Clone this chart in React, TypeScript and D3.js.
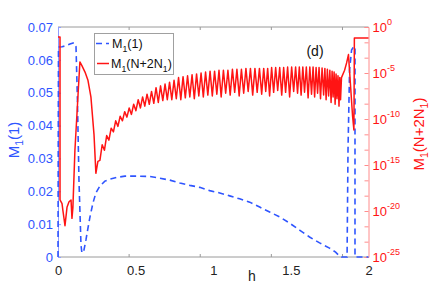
import React, { useEffect, useRef } from "react";
import * as d3 from "d3";

// M1(1), blue dashed, left axis
const blueH = [0, 0.003, 0.026, 0.051, 0.077, 0.103, 0.116, 0.125, 0.135, 0.148,
  0.154, 0.167, 0.18, 0.193, 0.206, 0.225, 0.244, 0.27, 0.302, 0.334,
  0.386, 0.431, 0.508, 0.592, 0.656, 0.72, 0.785, 0.849, 0.913, 0.977,
  1.042, 1.106, 1.17, 1.235, 1.299, 1.363, 1.428, 1.492, 1.556, 1.62,
  1.685, 1.749, 1.788, 1.813, 1.826, 1.862, 1.868, 1.878, 1.891, 1.904,
  1.913, 1.913, 2.0];
const blueV = [0, 0.0639, 0.064, 0.0643, 0.0648, 0.0652, 0.064, 0.048, 0.0234, 0.0037,
  0.0012, 0.0021, 0.0052, 0.0088, 0.0122, 0.0164, 0.0195, 0.0216, 0.0231, 0.0237,
  0.0243, 0.0246, 0.0246, 0.0245, 0.024, 0.0234, 0.0225, 0.0218, 0.0212, 0.0202,
  0.0195, 0.0186, 0.0177, 0.0167, 0.0152, 0.0137, 0.0122, 0.0103, 0.0082, 0.0061,
  0.0043, 0.0027, 0.0015, 0.0003, 0, 0, 0.0326, 0.0569, 0.063, 0.064,
  0.064, 0, 0];

// M1(N+2N1), red, right log axis (values stored as log10)
const redHeadH = [0, 0.013, 0.013, 0.026, 0.032, 0.045, 0.058, 0.071, 0.084, 0.09,
  0.096, 0.109, 0.129, 0.141, 0.154, 0.174, 0.193, 0.212, 0.232, 0.244, 0.257];
const redHeadLog = [-1.1, -1.1, -18.8, -19.2, -20.0, -21.6, -19.6, -19.0, -18.8, -20.8,
  -19.6, -13.4, -7.4, -3.8, -4.2, -4.9, -5.8, -7.6, -11.7, -15.9, -14.6];

// oscillating part: cusp positions, cusp depths, arch tops between cusps
const combCuspH = [0.27, 0.299, 0.328, 0.357, 0.386, 0.415, 0.444, 0.473, 0.502, 0.531,
  0.559, 0.588, 0.617, 0.646, 0.675, 0.704, 0.733, 0.762, 0.791, 0.82,
  0.849, 0.878, 0.907, 0.936, 0.965, 0.994, 1.023, 1.051, 1.08, 1.109,
  1.138, 1.167, 1.196, 1.225, 1.254, 1.283, 1.312, 1.338, 1.363, 1.389,
  1.415, 1.441, 1.466, 1.492, 1.518, 1.543, 1.566, 1.588, 1.611, 1.633,
  1.653, 1.672, 1.691, 1.711, 1.727, 1.743, 1.759, 1.772, 1.785, 1.797,
  1.81, 1.82];
const combDipLog = [-14.5, -13.4, -12.3, -11.4, -10.8, -10.2, -9.8, -9.5, -9.1, -8.8,
  -8.6, -8.4, -8.3, -8.2, -8.0, -7.9, -7.9, -7.8, -7.9, -7.7,
  -7.6, -7.8, -7.5, -7.6, -7.4, -7.5, -7.3, -7.6, -7.2, -7.4,
  -7.1, -7.5, -7.2, -7.0, -7.4, -7.1, -7.3, -7.0, -7.5, -7.1,
  -6.9, -7.4, -7.1, -7.6, -7.0, -7.2, -7.4, -7.1, -7.7, -7.3,
  -7.6, -7.2, -7.8, -7.4, -7.9, -7.5, -8.2, -7.6, -8.4, -7.8,
  -8.6, -7.9];
const combPeakLog = [-12.8, -11.8, -11.0, -10.2, -9.7, -9.2, -8.8, -8.4, -7.9, -7.6,
  -7.3, -7.0, -6.6, -6.4, -6.2, -6.0, -5.8, -5.5, -5.4, -5.3,
  -5.2, -5.1, -5.0, -4.9, -4.8, -4.8, -4.7, -4.7, -4.7, -4.6,
  -4.6, -4.6, -4.5, -4.5, -4.5, -4.5, -4.5, -4.5, -4.4, -4.4,
  -4.4, -4.4, -4.35, -4.35, -4.35, -4.35, -4.35, -4.35, -4.35, -4.35,
  -4.4, -4.4, -4.45, -4.5, -4.6, -4.7, -4.8, -4.9, -5.1, -5.3,
  -5.5];

const redTailH = [1.826, 1.846, 1.859, 1.871, 1.884, 1.897, 1.906, 1.909, 2.0];
const redTailLog = [-5.5, -4.7, -3.9, -3.0, -6.3, -9.6, -11.2, -1.2, -1.2];

const leftTicks = [0, 0.01, 0.02, 0.03, 0.04, 0.05, 0.06, 0.07];
const rightLabelExps = [0, -5, -10, -15, -20, -25];
const xTickLabels = [0, 0.5, 1, 1.5, 2];

const BLUE = "#2f55ff";
const RED = "#ff1414";
const FONT = "'Liberation Sans', Arial, Helvetica, sans-serif";

const App = () => {
  const ref = useRef(null);

  useEffect(() => {
    const svg = d3.select(ref.current);
    svg.selectAll("*").remove();

    const L = 58, R = 368.5, T = 27, B = 257;
    const x = d3.scaleLinear().domain([0, 2]).range([L, R]);
    // MATLAB's second axes put its tick marks on a slightly different x range
    const xMark = d3.scaleLinear().domain([0, 2.183]).range([L, R]);
    const yL = d3.scaleLinear().domain([0, 0.07]).range([B, T]);
    const yR = d3.scaleLog().domain([1e-25, 1]).range([B, T]);

    // frame
    svg.append("line").attr("x1", L).attr("x2", R).attr("y1", T).attr("y2", T)
      .attr("stroke", "#9a9a9a");
    svg.append("line").attr("x1", L).attr("x2", R).attr("y1", B).attr("y2", B)
      .attr("stroke", "#9a9a9a");

    // x tick marks (top and bottom, inward)
    [0.5, 1, 1.5, 2].forEach((t) => {
      const px = xMark(t);
      svg.append("line").attr("x1", px).attr("x2", px).attr("y1", B).attr("y2", B - 3)
        .attr("stroke", "#9a9a9a");
      svg.append("line").attr("x1", px).attr("x2", px).attr("y1", T).attr("y2", T + 3)
        .attr("stroke", "#9a9a9a");
    });

    // x labels
    const xAxis = svg.append("g").attr("transform", `translate(0,${B})`)
      .call(d3.axisBottom(x).tickValues(xTickLabels).tickSize(0).tickPadding(9)
        .tickFormat((d) => String(d)));
    xAxis.select(".domain").remove();
    xAxis.selectAll("text").attr("font-family", FONT).attr("font-size", 13)
      .attr("fill", "#222");

    // left axis
    const yAxisL = svg.append("g").attr("transform", `translate(${L},0)`)
      .call(d3.axisLeft(yL).tickValues(leftTicks).tickSize(-3).tickPadding(5)
        .tickFormat((d) => (d === 0 ? "0" : d.toFixed(2))));
    yAxisL.select(".domain").attr("stroke", "#8e9cff");
    yAxisL.selectAll("line").attr("stroke", "#8e9cff");
    yAxisL.selectAll("text").attr("font-family", FONT).attr("font-size", 13)
      .attr("fill", BLUE);

    // right log axis
    const minorExps = d3.range(0, 16).map((i) => -i * 5 / 3);
    const yAxisR = svg.append("g").attr("transform", `translate(${R},0)`)
      .call(d3.axisRight(yR).tickValues(minorExps.map((e) => Math.pow(10, e)))
        .tickSize(-4).tickFormat(() => ""));
    yAxisR.select(".domain").attr("stroke", "#ff8c8c");
    yAxisR.selectAll("line").attr("stroke", "#ff8c8c");

    rightLabelExps.forEach((e) => {
      const t = svg.append("text").attr("x", R + 4).attr("y", yR(Math.pow(10, e)) + 5)
        .attr("font-family", FONT).attr("font-size", 13).attr("fill", RED);
      t.append("tspan").text("10");
      t.append("tspan").attr("font-size", 9).attr("dy", -7).text(String(e));
    });

    // blue curve
    const blueData = blueH.map((h, i) => [h, blueV[i]]);
    svg.append("path").datum(blueData)
      .attr("d", d3.line().x((d) => x(d[0])).y((d) => yL(d[1])))
      .attr("fill", "none").attr("stroke", BLUE).attr("stroke-width", 1.6)
      .attr("stroke-dasharray", "6,4");

    // red curve
    const redData = redHeadH.map((h, i) => [h, redHeadLog[i]]);
    combCuspH.forEach((h, i) => {
      redData.push([h, combDipLog[i]]);
      if (i < combPeakLog.length) {
        redData.push([(h + combCuspH[i + 1]) / 2, combPeakLog[i]]);
      }
    });
    redTailH.forEach((h, i) => redData.push([h, redTailLog[i]]));
    svg.append("path").datum(redData)
      .attr("d", d3.line().x((d) => x(d[0])).y((d) => yR(Math.pow(10, d[1]))))
      .attr("fill", "none").attr("stroke", RED).attr("stroke-width", 1.5)
      .attr("stroke-linejoin", "round");

    // axis titles
    const sub = (sel, parts) => {
      parts.forEach(([s, isSub]) => {
        const ts = sel.append("tspan").text(s);
        if (isSub) ts.attr("font-size", "0.7em").attr("dy", 4);
        else ts.attr("dy", sel.selectAll("tspan").size() > 1 ? -4 : 0);
      });
      return sel;
    };

    sub(svg.append("text").attr("transform", "translate(19,140) rotate(-90)")
      .attr("text-anchor", "middle").attr("font-family", FONT).attr("font-size", 15)
      .attr("fill", BLUE), [["M", false], ["1", true], ["(1)", false]]);

    sub(svg.append("text").attr("transform", "translate(424,134) rotate(-90)")
      .attr("text-anchor", "middle").attr("font-family", FONT).attr("font-size", 15)
      .attr("fill", RED),
    [["M", false], ["1", true], ["(N+2N", false], ["1", true], [")", false]]);

    svg.append("text").attr("x", 252).attr("y", 281).attr("text-anchor", "middle")
      .attr("font-family", FONT).attr("font-size", 14).attr("fill", "#222").text("h");

    svg.append("text").attr("x", 315).attr("y", 56).attr("text-anchor", "middle")
      .attr("font-family", FONT).attr("font-size", 14).attr("fill", "#111").text("(d)");

    // legend
    const lg = svg.append("g");
    lg.append("rect").attr("x", 94.5).attr("y", 33.5).attr("width", 79).attr("height", 41)
      .attr("fill", "#fff").attr("stroke", "#a0a0a0");
    lg.append("line").attr("x1", 96).attr("x2", 109).attr("y1", 43.5).attr("y2", 43.5)
      .attr("stroke", BLUE).attr("stroke-width", 1.6).attr("stroke-dasharray", "6,4");
    lg.append("line").attr("x1", 97).attr("x2", 109).attr("y1", 63.5).attr("y2", 63.5)
      .attr("stroke", RED).attr("stroke-width", 1.5);
    sub(lg.append("text").attr("x", 112).attr("y", 48).attr("font-family", FONT)
      .attr("font-size", 12.5).attr("fill", "#111"),
    [["M", false], ["1", true], ["(1)", false]]);
    sub(lg.append("text").attr("x", 111).attr("y", 68).attr("font-family", FONT)
      .attr("font-size", 12.5).attr("fill", "#111"),
    [["M", false], ["1", true], ["(N+2N", false], ["1", true], [")", false]]);
  }, []);

  return (
    <svg
      ref={ref}
      width={432}
      height={295}
      viewBox="0 0 432 295"
      style={{ position: "absolute", left: 0, top: 0, background: "#fff" }}
    />
  );
};

export default App;
